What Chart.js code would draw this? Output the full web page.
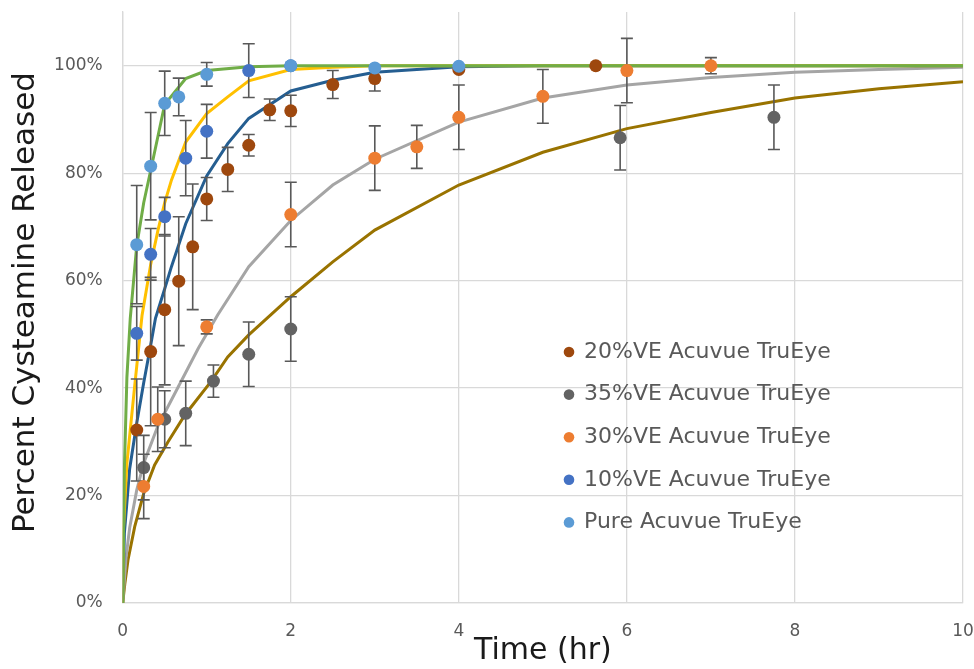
<!DOCTYPE html>
<html><head><meta charset="utf-8">
<script src="https://cdn.jsdelivr.net/npm/chart.js@4.4.1/dist/chart.umd.min.js"></script>
<style>html,body{margin:0;padding:0;background:#fff;overflow:hidden}</style>
</head><body>
<canvas id="c" width="974" height="669"></canvas>
<script>
// ---- measured data (x in hr, y in %) ----
const pureX = [0.167,0.333,0.5,0.667,1,2,3,4];
const pureY = [66.7,81.3,93.0,94.2,98.4,100,99.6,99.9];
const pureErr = [11,10,6,3.5,2.2,0,0,0];

const ve10X = [0.167,0.333,0.5,0.75,1,1.5,2];
const ve10Y = [50.2,64.9,71.9,82.8,87.8,99.1,100];
const ve10Err = [5,4.8,3.6,7,5,5,0];

const ve20X = [0.167,0.333,0.5,0.667,0.833,1,1.25,1.5,1.75,2,2.5,3,4,5.63];
const ve20Y = [32.2,46.8,54.6,59.9,66.3,75.2,80.7,85.2,91.8,91.6,96.5,97.6,99.3,100];
const ve20Err = [9.5,13.8,14,12,11.7,4,4.1,2,2,2.9,2.6,2.3,0,0];

const ve30X = [0.25,0.417,1,2,3,3.5,4,5,6,7];
const ve30Y = [21.7,34.2,51.4,72.3,82.8,84.9,90.4,94.3,99.1,100];
const ve30Err = [6,6,1.3,6,6,4,6,5,6,1.5];

const ve35X = [0.25,0.5,0.75,1.08,1.5,2,5.92,7.75];
const ve35Y = [25.2,34.2,35.3,41.3,46.3,51.0,86.6,90.4];
const ve35Err = [6,5.3,6,3,6,6,6,6];

// ---- fitted curves ----
const fitPureX = [0,0.02,0.05,0.09,0.167,0.25,0.333,0.5,0.75,1,1.5,2,3,10];
const fitPureY = [0,25,42,53,66.5,74.5,80.5,92.8,97.6,99.1,99.8,100,100,100];

const fit10X = [0,0.01,0.05,0.14,0.23,0.333,0.42,0.5,0.58,0.75,1,1.25,1.5,2,2.5,3,10];
const fit10Y = [0,14,26,40,53.5,63,69.4,74.5,78.7,85.8,91.1,94.2,97.2,99.3,99.7,100,100];

const fit20X = [0,0.02,0.083,0.167,0.25,0.333,0.39,0.5,0.58,0.75,1,1.25,1.5,2,2.5,3,4,5,10];
const fit20Y = [0,13,25,33.5,41,48,53,58.5,62.6,70.6,79.5,85.5,90.2,95.3,97.3,98.8,99.8,100,100];

const fit30X = [0,0.04,0.083,0.167,0.25,0.42,0.62,0.9,1.13,1.5,2,2.5,3,4,5,6,7,8,9,10];
const fit30Y = [0,8.5,14,21,26,33,39,47.4,53.6,62.6,71.2,77.8,82.6,89.5,94,96.4,97.8,98.8,99.3,99.7];

const fit35X = [0,0.025,0.063,0.143,0.25,0.38,0.54,0.74,1.05,1.25,1.5,2,2.5,3,4,5,6,7,8,9,10];
const fit35Y = [0,3.5,8,14.2,20.4,25.7,30,35,41.2,45.8,49.9,57,63.5,69.4,77.8,83.9,88.3,91.3,94,95.7,97];

const xTicks = [0,2,4,6,8,10];
const yTicks = [0,20,40,60,80,100];

const legendOrder = ['20%VE Acuvue TruEye','35%VE Acuvue TruEye','30%VE Acuvue TruEye','10%VE Acuvue TruEye','Pure Acuvue TruEye'];

function pts(xs, ys){ return xs.map((x,i)=>({x:x, y:ys[i]})); }

function pointSet(label, xs, ys, errs, color, order){
  return {label, data: pts(xs,ys), errors: errs, showLine:false,
    pointRadius:6.5, pointBackgroundColor:color, pointBorderColor:color, pointBorderWidth:0,
    backgroundColor:color, borderColor:color, order};
}
function curveSet(xs, ys, color, order){
  return {label:'fit', data: pts(xs,ys), showLine:true, pointRadius:0, borderColor:color,
    backgroundColor:color, borderWidth:3, tension:0, fill:false, order};
}

const datasets = [
  curveSet(fit35X, fit35Y, '#997300', 20),
  curveSet(fit30X, fit30Y, '#A5A5A5', 19),
  curveSet(fit20X, fit20Y, '#255E91', 18),
  curveSet(fit10X, fit10Y, '#FFC000', 17),
  curveSet(fitPureX, fitPureY, '#70AD47', 16),
  pointSet('20%VE Acuvue TruEye', ve20X, ve20Y, ve20Err, '#9E480E', 5),
  pointSet('35%VE Acuvue TruEye', ve35X, ve35Y, ve35Err, '#636363', 4),
  pointSet('30%VE Acuvue TruEye', ve30X, ve30Y, ve30Err, '#ED7D31', 3),
  pointSet('10%VE Acuvue TruEye', ve10X, ve10Y, ve10Err, '#4472C4', 2),
  pointSet('Pure Acuvue TruEye', pureX, pureY, pureErr, '#5B9BD5', 1)
];

const errPlugin = {
  id:'errbars',
  beforeDatasetDraw(chart, args){
    const ds = chart.data.datasets[args.index];
    if (!ds.errors) return;
    const {ctx} = chart; const xs = chart.scales.x, ys = chart.scales.y;
    ctx.save();
    ctx.strokeStyle = '#595959'; ctx.lineWidth = 1.6;
    ds.data.forEach((p,i)=>{
      const e = ds.errors[i]; if (!e) return;
      const px = xs.getPixelForValue(p.x);
      const y1 = ys.getPixelForValue(p.y + e), y2 = ys.getPixelForValue(p.y - e);
      ctx.beginPath();
      ctx.moveTo(px, y1); ctx.lineTo(px, y2);
      ctx.moveTo(px-6, y1); ctx.lineTo(px+6, y1);
      ctx.moveTo(px-6, y2); ctx.lineTo(px+6, y2);
      ctx.stroke();
    });
    ctx.restore();
  }
};

const legendPlugin = {
  id:'customLegend',
  afterDraw(chart){
    const {ctx} = chart;
    ctx.save();
    ctx.font = '22px "DejaVu Sans"';
    ctx.textBaseline = 'middle'; ctx.textAlign = 'left';
    legendOrder.forEach((name,i)=>{
      const ds = chart.data.datasets.find(d=>d.label===name);
      const y = 352 + i*42.6;
      ctx.fillStyle = ds.pointBackgroundColor;
      ctx.beginPath(); ctx.arc(569, y, 5.3, 0, Math.PI*2); ctx.fill();
      ctx.fillStyle = '#595959';
      ctx.fillText(ds.label, 584, y);
    });
    ctx.restore();
  }
};

Chart.defaults.font.family = '"DejaVu Sans"';

new Chart(document.getElementById('c'), {
  type:'scatter',
  data:{datasets},
  plugins:[errPlugin, legendPlugin],
  options:{
    responsive:false, animation:false, events:[],
    layout:{padding:{top:12, right:11, left:0, bottom:0}},
    plugins:{legend:{display:false}, tooltip:{enabled:false}},
    scales:{
      x:{type:'linear', min:0, max:10,
        afterBuildTicks(s){ s.ticks = xTicks.map(v=>({value:v})); },
        afterFit(s){ s.height = 66; s.paddingLeft = 0; s.paddingRight = 0; },
        grid:{color:'#D9D9D9', lineWidth:1.3, drawTicks:false},
        border:{color:'#D9D9D9', width:1.3},
        ticks:{padding:18, color:'#595959', font:{size:17}, maxRotation:0},
        title:{display:true, text:'Time (hr)', color:'#1a1a1a', font:{size:30, lineHeight:1.2}, padding:{top:0,bottom:0}}
      },
      y:{type:'linear', min:0, max:110,
        afterBuildTicks(s){ s.ticks = yTicks.map(v=>({value:v})); },
        afterFit(s){ s.width = 122.7; s.paddingTop = 0; s.paddingBottom = 0; },
        grid:{color:'#D9D9D9', lineWidth:1.3, drawTicks:false},
        border:{color:'#D9D9D9', width:1.3},
        ticks:{padding:20, color:'#595959', font:{size:17}, callback:v=>v+'%'},
        title:{display:true, text:' Percent Cysteamine Released', color:'#1a1a1a', font:{size:31, lineHeight:1.2}, padding:{top:7,bottom:0}}
      }
    }
  }
});
</script>
</body></html>
